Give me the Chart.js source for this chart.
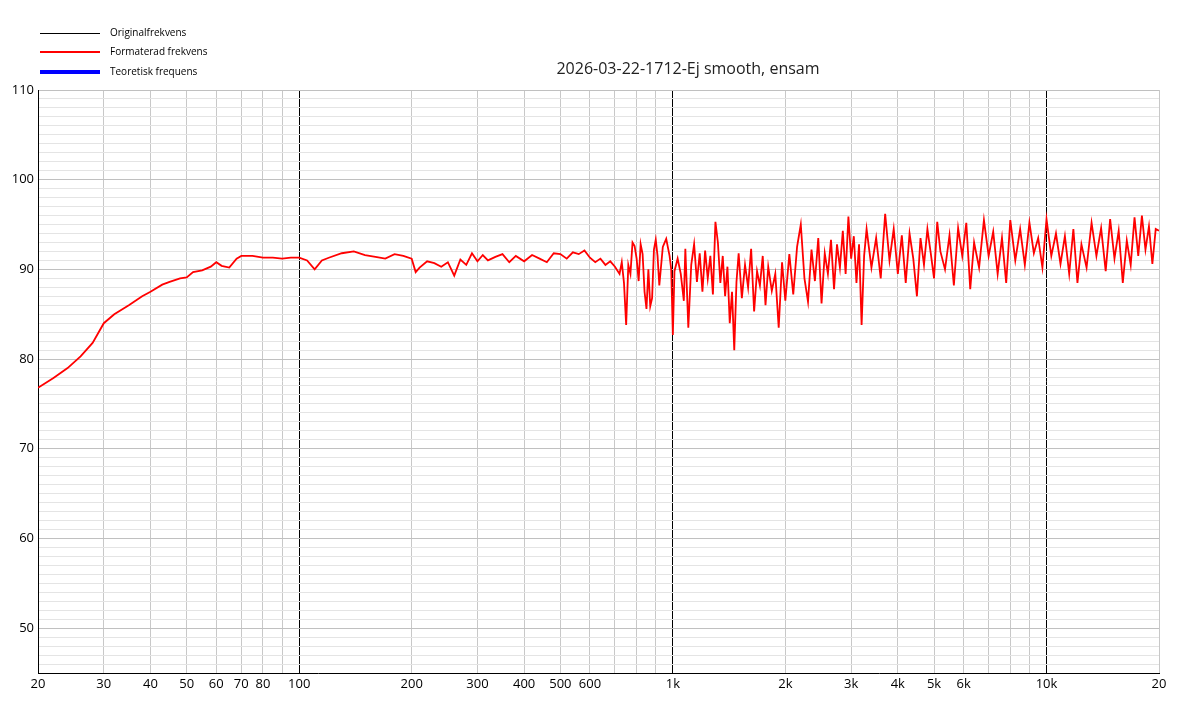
<!DOCTYPE html>
<html>
<head>
<meta charset="utf-8">
<script src="https://cdn.jsdelivr.net/npm/chart.js@4/dist/chart.umd.min.js"></script>
<style>
  body { margin: 0; background: #fff; font-family: "Open Sans", "DejaVu Sans", sans-serif; }
  #wrap { position: relative; width: 1200px; height: 705px; }
  .leg { position: absolute; left: 40px; font-size: 10px; color: #000; }
  .leg span { display: inline-block; width: 60px; vertical-align: middle; margin-right: 10px; }
  #title { position: absolute; left: 438px; width: 500px; top: 57px; text-align: center; font-size: 16px; color: #222; }
</style>
</head>
<body>
<div id="wrap">
  <div class="leg" style="top:25px"><span style="height:1px;background:#000"></span>Originalfrekvens</div>
  <div class="leg" style="top:44px"><span style="height:2px;background:#f00"></span>Formaterad frekvens</div>
  <div class="leg" style="top:64px"><span style="height:4px;background:#00f"></span>Teoretisk frequens</div>
  <div id="title">2026-03-22-1712-Ej smooth, ensam</div>
  <canvas id="c" width="1200" height="705"></canvas>
</div>
<script>
const freqs = [20,22,24,26,28,30,32,35,38,40,43,45,48,50,52,55,58,60,62,65,68,70,75,80,85,90,95,100,105,110,115,120,130,140,150,160,170,180,190,200,205,210,220,230,240,250,260,270,280,290,300,310,320,335,350,365,380,400,420,440,460,480,500,520,540,560,580,600,620,640,660,680,700,720,
  730,740,750,760,770,780,790,800,810,820,830,840,850,860,870,880,890,900,910,920,940,960,980,990,1000,1010,1030,1050,1070,1080,1090,1100,1120,1140,1160,1180,1200,1220,1240,1260,1280,1300,1320,1340,1360,1380,1400,1420,1440,1460,1480,1500,1530,1560,1590,1620,1650,1680,1710,1740,1770,1800,1840,1880,1920,1960,2000,2050,2100,2150,2200,2250,2300,2350,2400,2450,2500,2550,2600,2650,2700,2750,2800,2850,2900,2950,3000,3050,3100,3150,3200,3250,3300,3400,3500,3600,3700,3800,3900,4000,4100,4200,4300,4400,4500,4600,4700,4800,4900,5000,5100,5200,5350,5500,5650,5800,5950,6100,6250,6400,6600,6800,7000,7200,7400,7600,7800,8000,8250,8500,8750,9000,9250,9500,9750,10000,10300,10600,10900,11200,11500,11800,12100,12400,12800,13200,13600,14000,14400,14800,15200,15600,16000,16400,16800,17200,17600,18000,18400,18800,19200,19600,20000];
const formaterad = [76.8,77.9,79,80.3,81.8,84.0,85.0,86.0,87.0,87.5,88.3,88.6,89.0,89.1,89.7,89.9,90.3,90.8,90.4,90.2,91.2,91.5,91.5,91.3,91.3,91.2,91.3,91.3,91.0,90.0,91.0,91.3,91.8,92.0,91.6,91.4,91.2,91.7,91.5,91.2,89.7,90.2,90.9,90.7,90.3,90.8,89.3,91.1,90.5,91.8,90.9,91.6,91.0,91.4,91.7,90.8,91.5,90.9,91.6,91.2,90.8,91.8,91.7,91.2,91.9,91.7,92.1,91.3,90.8,91.2,90.5,90.9,90.3,89.5,
  90.8,88.5,83.8,90.5,89.5,93,92.6,91.2,88.7,92.8,91.7,87.5,85.6,90,85.9,86.8,92.2,93.3,91.5,88.2,92.5,93.4,91.5,90,82.7,89.8,91.2,89.5,86.5,92.3,88,83.5,90.5,92.8,88.6,91.8,87.5,92.1,89.0,91.5,87.2,95.3,93,88.5,91.5,87.0,90.3,84,87.5,81,88.6,91.8,86.8,90.5,88.0,92.3,85.3,89.8,88.2,91.5,86,90.3,87.6,89.5,83.5,90.8,86.5,91.7,87.2,92.5,95,89,86.4,92.2,88.7,93.5,86.2,91.8,89.5,93.3,87.8,92.8,90.2,94.3,89.5,95.9,91.2,93.7,88.5,92.8,83.8,91.5,94.5,90.2,93.5,89,96.2,91,94.5,89.5,93.8,88.5,94,91.2,87.0,93.5,90.5,94.5,91.8,89.0,95.3,92,90,93.8,88.2,94.6,91.5,95.2,87.8,93.0,90.2,95.5,91.5,94.2,89.5,93.5,88.5,95.5,91.0,94.5,90.5,95.2,91.8,93.5,90.2,95.6,91.5,94.0,90.6,93.7,89.5,94.5,88.5,92.8,90.2,95.2,91.5,94.6,89.8,95.6,91.2,94.3,88.5,93.2,90.5,95.8,91.5,96,92.2,94.8,90.6,94.5,94.3];
const xTicks = [20,30,40,50,60,70,80,90,100,200,300,400,500,600,700,800,900,1000,2000,3000,4000,5000,6000,7000,8000,9000,10000,20000];
const xLabels = {20:'20',30:'30',40:'40',50:'50',60:'60',70:'70',80:'80',100:'100',200:'200',300:'300',400:'400',500:'500',600:'600',1000:'1k',2000:'2k',3000:'3k',4000:'4k',5000:'5k',6000:'6k',10000:'10k',20000:'20'};
const yLabels = [50,60,70,80,90,100,110];

new Chart(document.getElementById('c'), {
  type: 'line',
  data: {
    datasets: [
      { label: 'Originalfrekvens', data: [], borderColor: '#000', borderWidth: 1 },
      { label: 'Formaterad frekvens', data: freqs.map((f, i) => ({ x: f, y: formaterad[i] })),
        borderColor: '#ff0000', borderWidth: 1.8, pointRadius: 0, tension: 0 },
      { label: 'Teoretisk frequens', data: [], borderColor: '#0000ff', borderWidth: 4 }
    ]
  },
  options: {
    responsive: false,
    animation: false,
    layout: { padding: { top: 90, right: 41, left: 0, bottom: 0 } },
    plugins: { legend: { display: false }, tooltip: { enabled: false } },
    scales: {
      x: {
        type: 'logarithmic', min: 20, max: 20000,
        afterBuildTicks: s => { s.ticks = xTicks.map(v => ({ value: v })); },
        afterFit: s => { s.height = 32; },
        ticks: { autoSkip: false, maxRotation: 0, color: '#000', font: { family: 'Open Sans', size: 13 },
          callback: v => xLabels[v] || '' },
        grid: { color: c => [100, 1000, 10000].includes(c.tick && c.tick.value) ? '#000' : '#c8c8c8', drawTicks: false },
        border: { color: '#000' }
      },
      y: {
        min: 45, max: 110,
        afterBuildTicks: s => { const t = []; for (let v = 45; v <= 110; v++) t.push({ value: v }); s.ticks = t; },
        afterFit: s => { s.width = 38; },
        ticks: { autoSkip: false, color: '#000', padding: 4, font: { family: 'Open Sans', size: 13 },
          callback: v => yLabels.includes(v) ? String(v) : '' },
        grid: { color: c => (c.tick && c.tick.value % 10 === 0) ? '#c0c0c0' : '#e4e4e4', drawTicks: false },
        border: { color: '#000' }
      }
    }
  }
});
</script>
</body>
</html>
